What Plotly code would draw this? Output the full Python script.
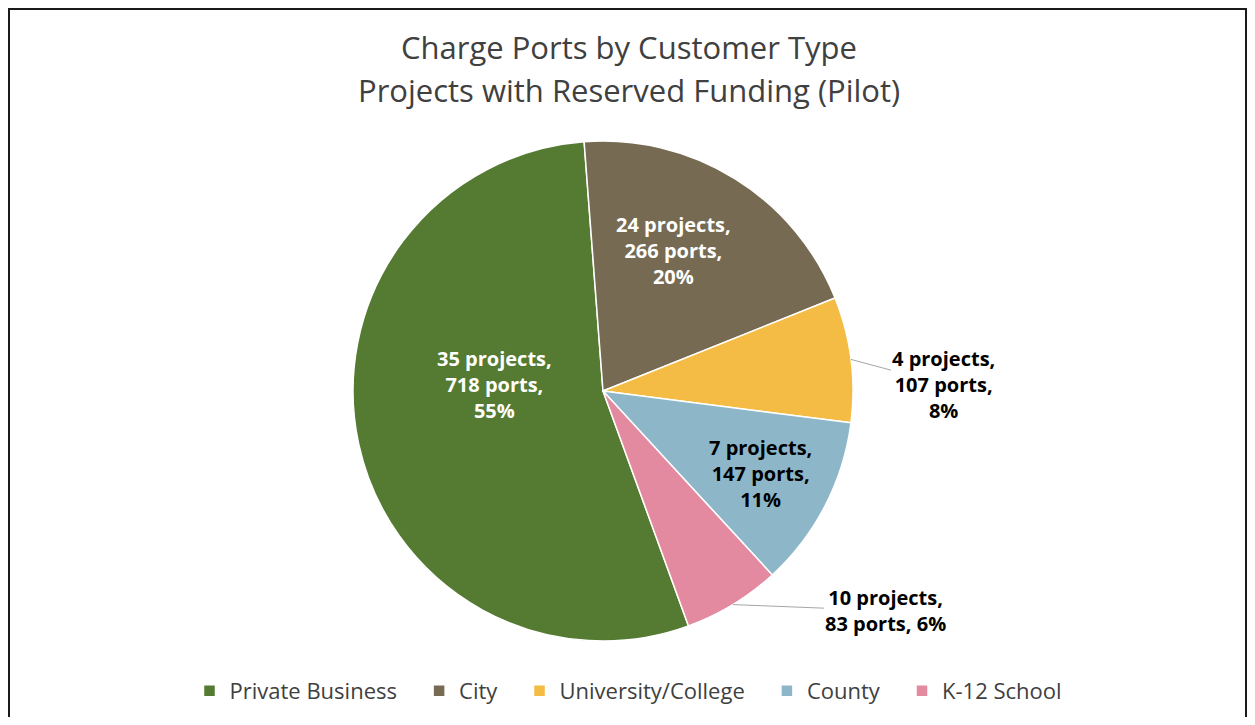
import math
import plotly.graph_objects as go

# ---- data ----
categories = ["Private Business", "City", "University/College", "County", "K-12 School"]
ports = [718, 266, 107, 147, 83]
projects = [35, 24, 4, 7, 10]
pct_labels = ["55%", "20%", "8%", "11%", "6%"]

# ---- styles / layout ----
colors = ["#557A31", "#766A52", "#F4BC45", "#8DB7C9", "#E48AA0"]
label_font_colors = ["white", "white", "black", "black", "black"]
outside = [False, False, True, False, True]
# inside label centres (page px) and outside label offsets from slice edge (px)
inside_centers = {"Private Business": (494, 385), "City": (674, 250), "County": (760, 473)}
outside_offsets = {"University/College": (93, 25), "K-12 School": (153, 6)}

OFF = 8  # page body margin
W, H = 1255 - 2 * OFF, 725 - 2 * OFF
FONT = "Segoe UI, Open Sans, Noto Sans, sans-serif"


def PX(p):
    return (p - OFF) / W


def PY(p):
    return 1 - (p - OFF) / H


def label_text(i):
    if categories[i] == "K-12 School":
        return f"{projects[i]} projects,<br>{ports[i]} ports, {pct_labels[i]}"
    return f"{projects[i]} projects,<br>{ports[i]} ports,<br>{pct_labels[i]}"


legend_labels = [c + "\u00a0\u00a0\u00a0" for c in categories]

# pie geometry (page pixels)
cx, cy, R = 603, 391, 250
dom_x = [PX(cx - R), PX(cx + R)]
dom_y = [PY(cy + R), PY(cy - R)]
rotation = 160

fig = go.Figure(go.Pie(
    labels=legend_labels,
    values=ports,
    textinfo="none",
    marker=dict(colors=colors, line=dict(color="white", width=1.5)),
    sort=False,
    direction="clockwise",
    rotation=rotation,
    domain=dict(x=dom_x, y=dom_y),
    hoverinfo="label+value+percent",
))

# data labels
total = sum(ports)
annotations = []
cum = 0
for i, v in enumerate(ports):
    mid = rotation + (cum + v / 2) / total * 360
    cum += v
    font = dict(family=FONT, size=20, color=label_font_colors[i])
    text = "<b>" + label_text(i) + "</b>"
    if outside[i]:
        a = math.radians(mid)
        px = cx + R * math.sin(a)
        py = cy - R * math.cos(a)
        ax, ay = outside_offsets[categories[i]]
        annotations.append(dict(
            x=PX(px), y=PY(py), xref="paper", yref="paper",
            text=text, showarrow=True,
            ax=ax, ay=ay, arrowhead=0, arrowwidth=1, arrowcolor="#A6A6A6",
            font=font, align="center",
        ))
    else:
        lx, ly = inside_centers[categories[i]]
        annotations.append(dict(
            x=PX(lx), y=PY(ly), xref="paper", yref="paper",
            xanchor="center", yanchor="middle",
            text=text, showarrow=False, font=font, align="center",
        ))

# title lines
annotations.append(dict(x=PX(629), y=PY(47), xref="paper", yref="paper",
                        xanchor="center", yanchor="middle",
                        text="Charge Ports by Customer Type", showarrow=False,
                        font=dict(family=FONT, size=31, color="#404040")))
annotations.append(dict(x=PX(629), y=PY(90), xref="paper", yref="paper",
                        xanchor="center", yanchor="middle",
                        text="Projects with Reserved Funding (Pilot)", showarrow=False,
                        font=dict(family=FONT, size=31, color="#404040")))

fig.update_layout(
    width=W, height=H,
    margin=dict(l=0, r=0, t=0, b=0),
    paper_bgcolor="white", plot_bgcolor="white",
    annotations=annotations,
    showlegend=True,
    legend=dict(orientation="h", x=PX(637), xanchor="center", y=PY(691), yanchor="middle",
                font=dict(family=FONT, size=22, color="#404040"), traceorder="normal"),
    shapes=[dict(type="rect", xref="paper", yref="paper",
                 x0=1 / W, x1=1 - 1 / W, y0=-0.05, y1=1 - 1 / H,
                 line=dict(color="#1A1A1A", width=2))],
)

fig.write_html("out.html")
